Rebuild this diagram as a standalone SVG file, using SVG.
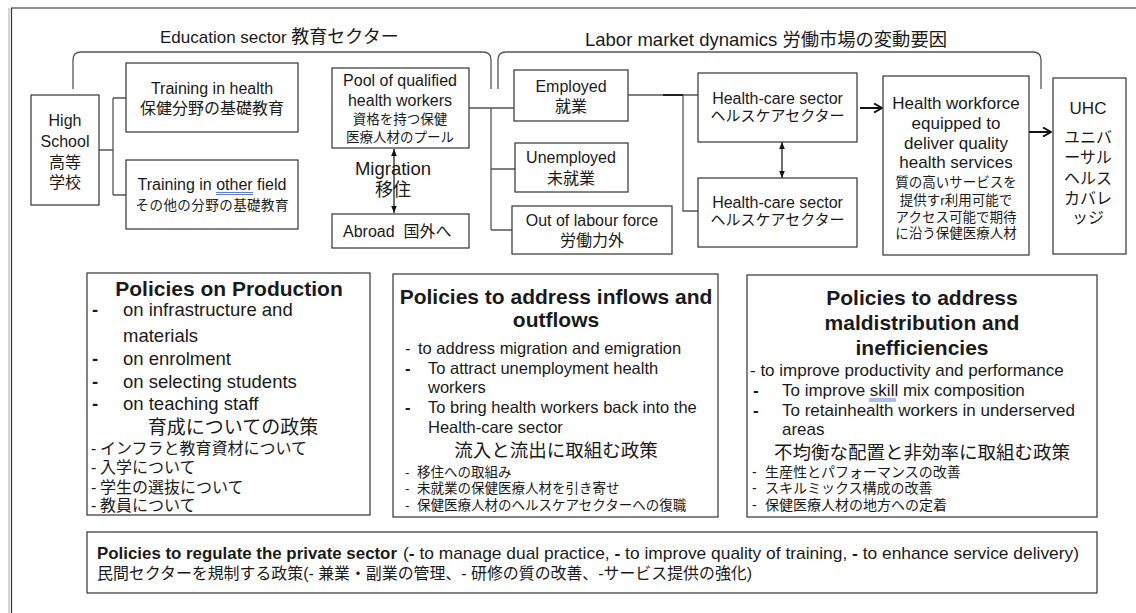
<svg xmlns="http://www.w3.org/2000/svg" width="1136" height="613" viewBox="0 0 1136 613">
<style>
text{font-family:'Liberation Sans','Noto Sans CJK JP',sans-serif;fill:#1a1a1a}
.box{fill:#fff;stroke:#333;stroke-width:1.2}
.c{text-anchor:middle}
.b{font-weight:bold}
.ln{stroke:#555;stroke-width:1.3;fill:none}
.ar{stroke:#111;stroke-width:1.2;fill:none}
.thick{stroke:#111;stroke-width:2;fill:none}
.ul{stroke:#4a6fd0;stroke-width:0.9}
</style>
<defs>
<marker id="tri" viewBox="0 0 10 10" refX="10" refY="5" markerWidth="6" markerHeight="6" orient="auto-start-reverse"><path d="M0,1 L10,5 L0,9 z" fill="#111"/></marker>
<marker id="chev" viewBox="0 0 10 10" refX="9" refY="5" markerUnits="userSpaceOnUse" markerWidth="10" markerHeight="10" orient="auto"><path d="M1,0.5 L9,5 L1,9.5" fill="none" stroke="#111" stroke-width="2"/></marker>
</defs>
<rect width="1136" height="613" fill="#fff"/>
<g id="frame">
<line x1="9" y1="8" x2="9" y2="613" stroke="#aaa" stroke-width="1"/>
<line x1="11.5" y1="8" x2="11.5" y2="613" stroke="#333" stroke-width="1.2"/>
<line x1="11" y1="8" x2="1136" y2="8" stroke="#222" stroke-width="1.2"/>
</g>
<g id="titles">
<text x="160" y="43" font-size="17">Education sector <tspan font-size="18">教育セクター</tspan></text>
<text x="585" y="46" font-size="18.5">Labor market dynamics <tspan font-size="18.3">労働市場の変動要因</tspan></text>
</g>
<g id="connectors">
<path class="ln" d="M73,89 V60 Q73,52 81,52 H483 Q491,52 491,60 V89"/>
<path class="ln" d="M498,89 V60 Q498,52 506,52 H1033 Q1041,52 1041,60 V89"/>
<path class="ln" d="M99,150 H113 M113,98 V195 M113,98 H126 M113,195 H126"/>
<path class="ln" d="M469,108 H514 M491,108 V230 M491,169 H515 M491,230 H512"/>
<path class="ln" d="M628,95 H698 M683,95 V211 H698"/>
<line x1="663" y1="95" x2="683" y2="95" stroke="#222" stroke-width="2"/>
<line class="ar" x1="394" y1="149" x2="394" y2="213" marker-start="url(#tri)" marker-end="url(#tri)"/>
<line class="ar" x1="782" y1="142" x2="782" y2="178" marker-start="url(#tri)" marker-end="url(#tri)"/>
<line class="thick" x1="860" y1="108" x2="882" y2="108" marker-end="url(#chev)"/>
<line class="thick" x1="1029" y1="132" x2="1051" y2="132" marker-end="url(#chev)"/>
</g>
<g id="high-school">
<rect class="box" x="31" y="95" width="68" height="110"/>
<text class="c" x="65" y="126" font-size="16">High</text>
<text class="c" x="65" y="147" font-size="16">School</text>
<text class="c" x="65" y="168" font-size="16">高等</text>
<text class="c" x="65" y="188" font-size="16">学校</text>
</g>
<g id="training-health">
<rect class="box" x="126" y="63" width="172" height="69"/>
<text class="c" x="212" y="94" font-size="16">Training in health</text>
<text class="c" x="212" y="114" font-size="16">保健分野の基礎教育</text>
</g>
<g id="training-other">
<rect class="box" x="126" y="160" width="172" height="69"/>
<text class="c" x="212" y="190" font-size="16">Training in other field</text>
<line class="ul" x1="216" y1="192.5" x2="253" y2="192.5"/>
<line class="ul" x1="216" y1="194.5" x2="253" y2="194.5"/>
<text class="c" x="212" y="210" font-size="13.5" textLength="153" lengthAdjust="spacing">その他の分野の基礎教育</text>
</g>
<g id="pool">
<rect class="box" x="332" y="68" width="137" height="80"/>
<text class="c" x="400" y="86" font-size="16">Pool of qualified</text>
<text class="c" x="400" y="106" font-size="16">health workers</text>
<text class="c" x="400" y="124" font-size="13.5">資格を持つ保健</text>
<text class="c" x="400" y="142" font-size="13.5">医療人材のプール</text>
</g>
<g id="migration">
<text class="c" x="393" y="175" font-size="18.5">Migration</text>
<text class="c" x="393" y="196" font-size="18">移住</text>
</g>
<g id="abroad">
<rect class="box" x="332" y="214" width="137" height="34"/>
<text x="343" y="237" font-size="16">Abroad<tspan dx="9">国外へ</tspan></text>
</g>
<g id="employed">
<rect class="box" x="514" y="70" width="114" height="51"/>
<text class="c" x="571" y="92" font-size="16">Employed</text>
<text class="c" x="571" y="112" font-size="16">就業</text>
</g>
<g id="unemployed">
<rect class="box" x="515" y="143" width="113" height="49"/>
<text class="c" x="571" y="163" font-size="16">Unemployed</text>
<text class="c" x="571" y="184" font-size="16">未就業</text>
</g>
<g id="out-of-labour">
<rect class="box" x="512" y="206" width="160" height="48"/>
<text class="c" x="592" y="226" font-size="16">Out of labour force</text>
<text class="c" x="592" y="246" font-size="16">労働力外</text>
</g>
<g id="hc-sector-1">
<rect class="box" x="698" y="73" width="159" height="69"/>
<text class="c" x="777.5" y="104" font-size="16">Health-care sector</text>
<text class="c" x="777.5" y="121" font-size="15">ヘルスケアセクター</text>
</g>
<g id="hc-sector-2">
<rect class="box" x="698" y="178" width="159" height="69"/>
<text class="c" x="777.5" y="208" font-size="16">Health-care sector</text>
<text class="c" x="777.5" y="225" font-size="15">ヘルスケアセクター</text>
</g>
<g id="health-workforce">
<rect class="box" x="883" y="76" width="146" height="179"/>
<text class="c" x="956" y="109" font-size="17">Health workforce</text>
<text class="c" x="956" y="129" font-size="17">equipped to</text>
<text class="c" x="956" y="149" font-size="17">deliver quality</text>
<text class="c" x="956" y="168" font-size="17">health services</text>
<text class="c" x="956" y="187" font-size="13.5">質の高いサービスを</text>
<text class="c" x="956" y="205" font-size="13.5">提供すr利用可能で</text>
<text class="c" x="956" y="222" font-size="13.5">アクセス可能で期待</text>
<text class="c" x="956" y="238" font-size="13.5">に沿う保健医療人材</text>
</g>
<g id="uhc">
<rect class="box" x="1053" y="78" width="73" height="176"/>
<text class="c" x="1088" y="114" font-size="17">UHC</text>
<text class="c" x="1088" y="143" font-size="16">ユニバ</text>
<text class="c" x="1088" y="163" font-size="16">ーサル</text>
<text class="c" x="1088" y="184" font-size="16">ヘルス</text>
<text class="c" x="1088" y="204" font-size="16">カバレ</text>
<text class="c" x="1088" y="223" font-size="16">ッジ</text>
</g>
<g id="policies-production">
<rect class="box" x="87" y="273" width="283" height="242"/>
<text class="c b" x="229" y="296" font-size="21">Policies on Production</text>
<g font-size="18.5">
<text class="b" x="92" y="316">-</text><text x="123" y="316">on infrastructure and</text>
<text x="123" y="342">materials</text>
<text class="b" x="92" y="365">-</text><text x="123" y="365">on enrolment</text>
<text class="b" x="92" y="388">-</text><text x="123" y="388">on selecting students</text>
<text class="b" x="92" y="410">-</text><text x="123" y="410">on teaching staff</text>
</g>
<text class="c" x="233" y="434" font-size="19">育成についての政策</text>
<g font-size="16">
<text x="91" y="454">-</text><text x="100" y="454">インフラと教育資材について</text>
<text x="91" y="473">-</text><text x="100" y="473">入学について</text>
<text x="91" y="493">-</text><text x="100" y="493">学生の選抜について</text>
<text x="91" y="511">-</text><text x="100" y="511">教員について</text>
</g>
</g>
<g id="policies-flows">
<rect class="box" x="393" y="274" width="325" height="243"/>
<text class="c b" x="556" y="304" font-size="21">Policies to address inflows and</text>
<text class="c b" x="556" y="327" font-size="21">outflows</text>
<g font-size="16.5">
<text x="405" y="354">-</text><text x="418" y="354">to address migration and emigration</text>
<text class="b" x="405" y="374">-</text><text x="428" y="374">To attract unemployment health</text>
<text x="428" y="393">workers</text>
<text class="b" x="405" y="413">-</text><text x="428" y="413">To bring health workers back into the</text>
<text x="428" y="433">Health-care sector</text>
</g>
<text class="c" x="556" y="457" font-size="18.5">流入と流出に取組む政策</text>
<g font-size="13.5">
<text x="405" y="477">-</text><text x="417" y="477">移住への取組み</text>
<text x="405" y="493">-</text><text x="417" y="493">未就業の保健医療人材を引き寄せ</text>
<text x="405" y="510">-</text><text x="417" y="510">保健医療人材のヘルスケアセクターへの復職</text>
</g>
</g>
<g id="policies-maldistribution">
<rect class="box" x="747" y="275" width="350" height="242"/>
<text class="c b" x="922" y="305" font-size="21">Policies to address</text>
<text class="c b" x="922" y="330" font-size="21">maldistribution and</text>
<text class="c b" x="922" y="355" font-size="21">inefficiencies</text>
<g font-size="17">
<text x="750" y="376">- to improve productivity and performance</text>
<text class="b" x="753" y="396">-</text><text x="782" y="396">To improve skill mix composition</text>
<line class="ul" x1="869" y1="399" x2="896" y2="399"/>
<line class="ul" x1="869" y1="401" x2="896" y2="401"/>
<text class="b" x="753" y="416">-</text><text x="782" y="416">To retainhealth workers in underserved</text>
<text x="782" y="435">areas</text>
</g>
<text class="c" x="922" y="459" font-size="18.5">不均衡な配置と非効率に取組む政策</text>
<g font-size="14">
<text x="752" y="477">-</text><text x="765" y="477">生産性とパフォーマンスの改善</text>
<text x="752" y="493">-</text><text x="765" y="493">スキルミックス構成の改善</text>
<text x="752" y="510">-</text><text x="765" y="510">保健医療人材の地方への定着</text>
</g>
</g>
<g id="policies-private">
<rect class="box" x="87" y="532" width="1010" height="61"/>
<text class="b" x="97" y="559" font-size="16.5" textLength="300" lengthAdjust="spacingAndGlyphs">Policies to regulate the private sector</text>
<text x="403" y="559" font-size="17" textLength="676" lengthAdjust="spacingAndGlyphs">(<tspan class="b">-</tspan> to manage dual practice, <tspan class="b">-</tspan> to improve quality of training, <tspan class="b">-</tspan> to enhance service delivery)</text>
<text x="97" y="579" font-size="16" textLength="655" lengthAdjust="spacingAndGlyphs">民間セクターを規制する政策(- 兼業・副業の管理、- 研修の質の改善、-サービス提供の強化)</text>
</g>
</svg>
